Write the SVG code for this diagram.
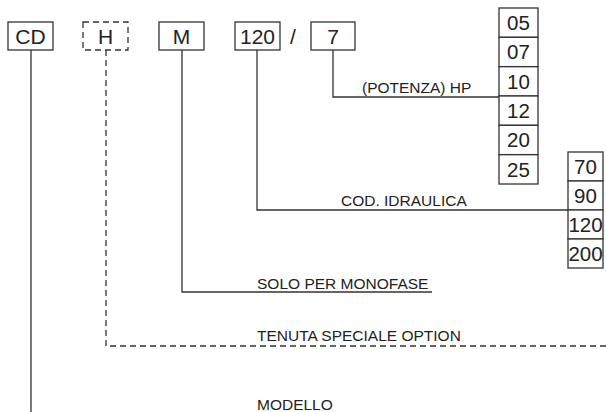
<svg xmlns="http://www.w3.org/2000/svg" width="606" height="412" viewBox="0 0 606 412">
<style>
.box{fill:#fff;stroke:#333;stroke-width:1.3}
.dbox{fill:#fff;stroke:#333;stroke-width:1.3;stroke-dasharray:6 4}
.ln{fill:none;stroke:#333;stroke-width:1.3}
.dl{fill:none;stroke:#333;stroke-width:1.3;stroke-dasharray:6 4}
.bt{font-family:"Liberation Sans",Arial,sans-serif;font-size:21px;fill:#222;text-anchor:middle}
.ct{font-family:"Liberation Sans",Arial,sans-serif;font-size:20.5px;fill:#222;text-anchor:middle}
.lb{font-family:"Liberation Sans",Arial,sans-serif;font-size:15.5px;fill:#222}
</style>
<rect width="606" height="412" fill="#fff"/>
<g id="connectors">
<path class="ln" d="M31 50V412"/>
<path class="dl" d="M106 50V346H606"/>
<path class="ln" d="M182 50V292H432"/>
<path class="ln" d="M257 50V210H568"/>
<path class="ln" d="M333 50V97H499"/>
</g>
<g id="node-cd"><rect class="box" x="8" y="22" width="45" height="28"/><text class="bt" x="30.5" y="43.5">CD</text></g>
<g id="node-h"><rect class="dbox" x="83" y="22" width="45" height="28"/><text class="bt" x="105.5" y="43.5">H</text></g>
<g id="node-m"><rect class="box" x="159" y="22" width="45" height="28"/><text class="bt" x="181.5" y="43.5">M</text></g>
<g id="node-120"><rect class="box" x="235" y="22" width="45" height="28"/><text class="bt" x="257.5" y="43.5">120</text></g>
<text class="bt" x="293" y="43.5">/</text>
<g id="node-7"><rect class="box" x="311" y="22" width="44" height="28"/><text class="bt" x="333" y="43.5">7</text></g>
<g id="hp-values">
<rect class="box" x="499" y="8" width="39" height="29.3"/><text class="ct" x="518.5" y="30">05</text>
<rect class="box" x="499" y="37.3" width="39" height="29.3"/><text class="ct" x="518.5" y="59.3">07</text>
<rect class="box" x="499" y="66.7" width="39" height="29.3"/><text class="ct" x="518.5" y="88.7">10</text>
<rect class="box" x="499" y="96" width="39" height="29.3"/><text class="ct" x="518.5" y="118">12</text>
<rect class="box" x="499" y="125.3" width="39" height="29.3"/><text class="ct" x="518.5" y="147.3">20</text>
<rect class="box" x="499" y="154.7" width="39" height="29.3"/><text class="ct" x="518.5" y="176.7">25</text>
</g>
<g id="hyd-values">
<rect class="box" x="568" y="152" width="35" height="29"/><text class="ct" x="585.5" y="173.5">70</text>
<rect class="box" x="568" y="181" width="35" height="29"/><text class="ct" x="585.5" y="202.5">90</text>
<rect class="box" x="568" y="210" width="35" height="29"/><text class="ct" x="585.5" y="231.5">120</text>
<rect class="box" x="568" y="239" width="35" height="29"/><text class="ct" x="585.5" y="260.5">200</text>
</g>
<g id="labels">
<text class="lb" x="362" y="93">(POTENZA) HP</text>
<text class="lb" x="341" y="206">COD. IDRAULICA</text>
<text class="lb" x="257" y="289">SOLO PER MONOFASE</text>
<text class="lb" x="257" y="341">TENUTA SPECIALE OPTION</text>
<text class="lb" x="257" y="410">MODELLO</text>
</g>
</svg>
